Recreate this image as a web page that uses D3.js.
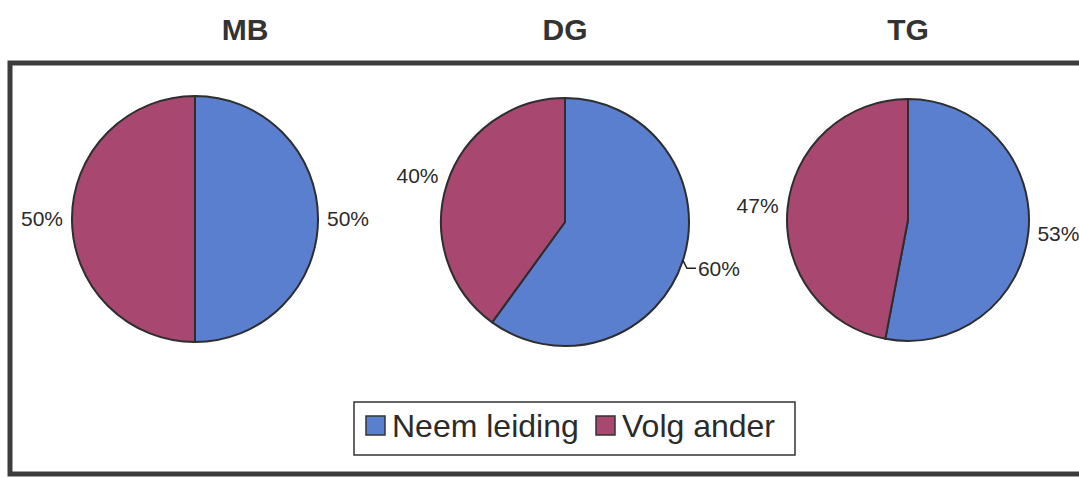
<!DOCTYPE html>
<meta charset="utf-8">
<script src="https://d3js.org/d3.v7.min.js"></script>
<style>
  body { margin: 0; background: #fff; }
  text { font-family: "Liberation Sans", Arial, sans-serif; fill: #2b2b2b; }
</style>
<div id="chart"></div>
<script>

    // data
    var groups = ["MB", "DG", "TG"];
    var categories = ["Neem leiding", "Volg ander"];
    var neemLeiding = [50, 60, 53];
    var volgAnder = [50, 40, 47];

    var width = 1079, height = 478;
    var colors = d3.scaleOrdinal().domain(categories).range(["#5b7fcf", "#a8476f"]);

    // layout of the three pies as they sit in the picture
    var layout = [
      {cx: 195, cy: 219, r: 123, tx: 245},
      {cx: 565, cy: 222, r: 124, tx: 565},
      {cx: 908, cy: 220, r: 121, tx: 908}
    ];
    // labels that Excel pushed out with a leader line
    var leaderLabels = ["DG|Neem leiding"];

    var svg = d3.select("#chart")
      .append("svg")
        .attr("width", width)
        .attr("height", height);

    // outer frame (right side runs off the page)
    svg.append("rect")
        .attr("x", 10)
        .attr("y", 63)
        .attr("width", 1100)
        .attr("height", 411)
        .attr("fill", "none")
        .attr("stroke", "#3c3c3c")
        .attr("stroke-width", 5);

    var pie = d3.pie().sort(null).value(function(d) { return d.value; });

    groups.forEach(function(g, i) {
      var L = layout[i];
      var data = [
        {cat: categories[0], value: neemLeiding[i]},
        {cat: categories[1], value: volgAnder[i]}
      ];
      var arc = d3.arc().innerRadius(0).outerRadius(L.r);

      svg.append("text")
          .attr("x", L.tx)
          .attr("y", 40)
          .attr("text-anchor", "middle")
          .style("font-size", "30px")
          .style("font-weight", "bold")
          .style("fill", "#333")
          .text(g);

      var gp = svg.append("g")
          .attr("transform", "translate(" + L.cx + "," + L.cy + ")");

      var slices = pie(data);

      gp.selectAll("path")
        .data(slices)
        .enter()
        .append("path")
          .attr("d", arc)
          .attr("fill", function(d) { return colors(d.data.cat); })
          .attr("stroke", "#2e2e2e")
          .attr("stroke-width", 2)
          .attr("stroke-linejoin", "round");

      slices.forEach(function(d) {
        var a = (d.startAngle + d.endAngle) / 2;
        var s = Math.sin(a), c = Math.cos(a);
        var right = s >= 0;
        var lx = s * (L.r + 9);
        var ly = -c * 150;
        var pct = Math.round(d.value / d3.sum(data, function(e) { return e.value; }) * 100) + "%";

        if (leaderLabels.indexOf(g + "|" + d.data.cat) >= 0) {
          var ex = s * L.r, ey = -c * L.r;
          lx = ex + 15;
          gp.append("path")
              .attr("d", "M" + ex + "," + ey + "L" + (ex + 4) + "," + (ly) + "L" + (lx - 2) + "," + ly)
              .attr("fill", "none")
              .attr("stroke", "#222")
              .attr("stroke-width", 1.5);
        }

        gp.append("text")
            .attr("x", lx)
            .attr("y", ly)
            .attr("dy", "0.35em")
            .attr("text-anchor", right ? "start" : "end")
            .style("font-size", "21px")
            .text(pct);
      });
    });

    // legend
    var legend = svg.append("g");
    legend.append("rect")
        .attr("x", 354)
        .attr("y", 402)
        .attr("width", 441)
        .attr("height", 53)
        .attr("fill", "#fff")
        .attr("stroke", "#333")
        .attr("stroke-width", 1.5);

    var legX = [366, 596];
    categories.forEach(function(cat, i) {
      legend.append("rect")
          .attr("x", legX[i])
          .attr("y", 416)
          .attr("width", 19)
          .attr("height", 19)
          .attr("fill", colors(cat))
          .attr("stroke", "#333")
          .attr("stroke-width", 1.5);
      legend.append("text")
          .attr("x", legX[i] + 26)
          .attr("y", 437)
          .style("font-size", "32px")
          .text(cat);
    });

</script>
